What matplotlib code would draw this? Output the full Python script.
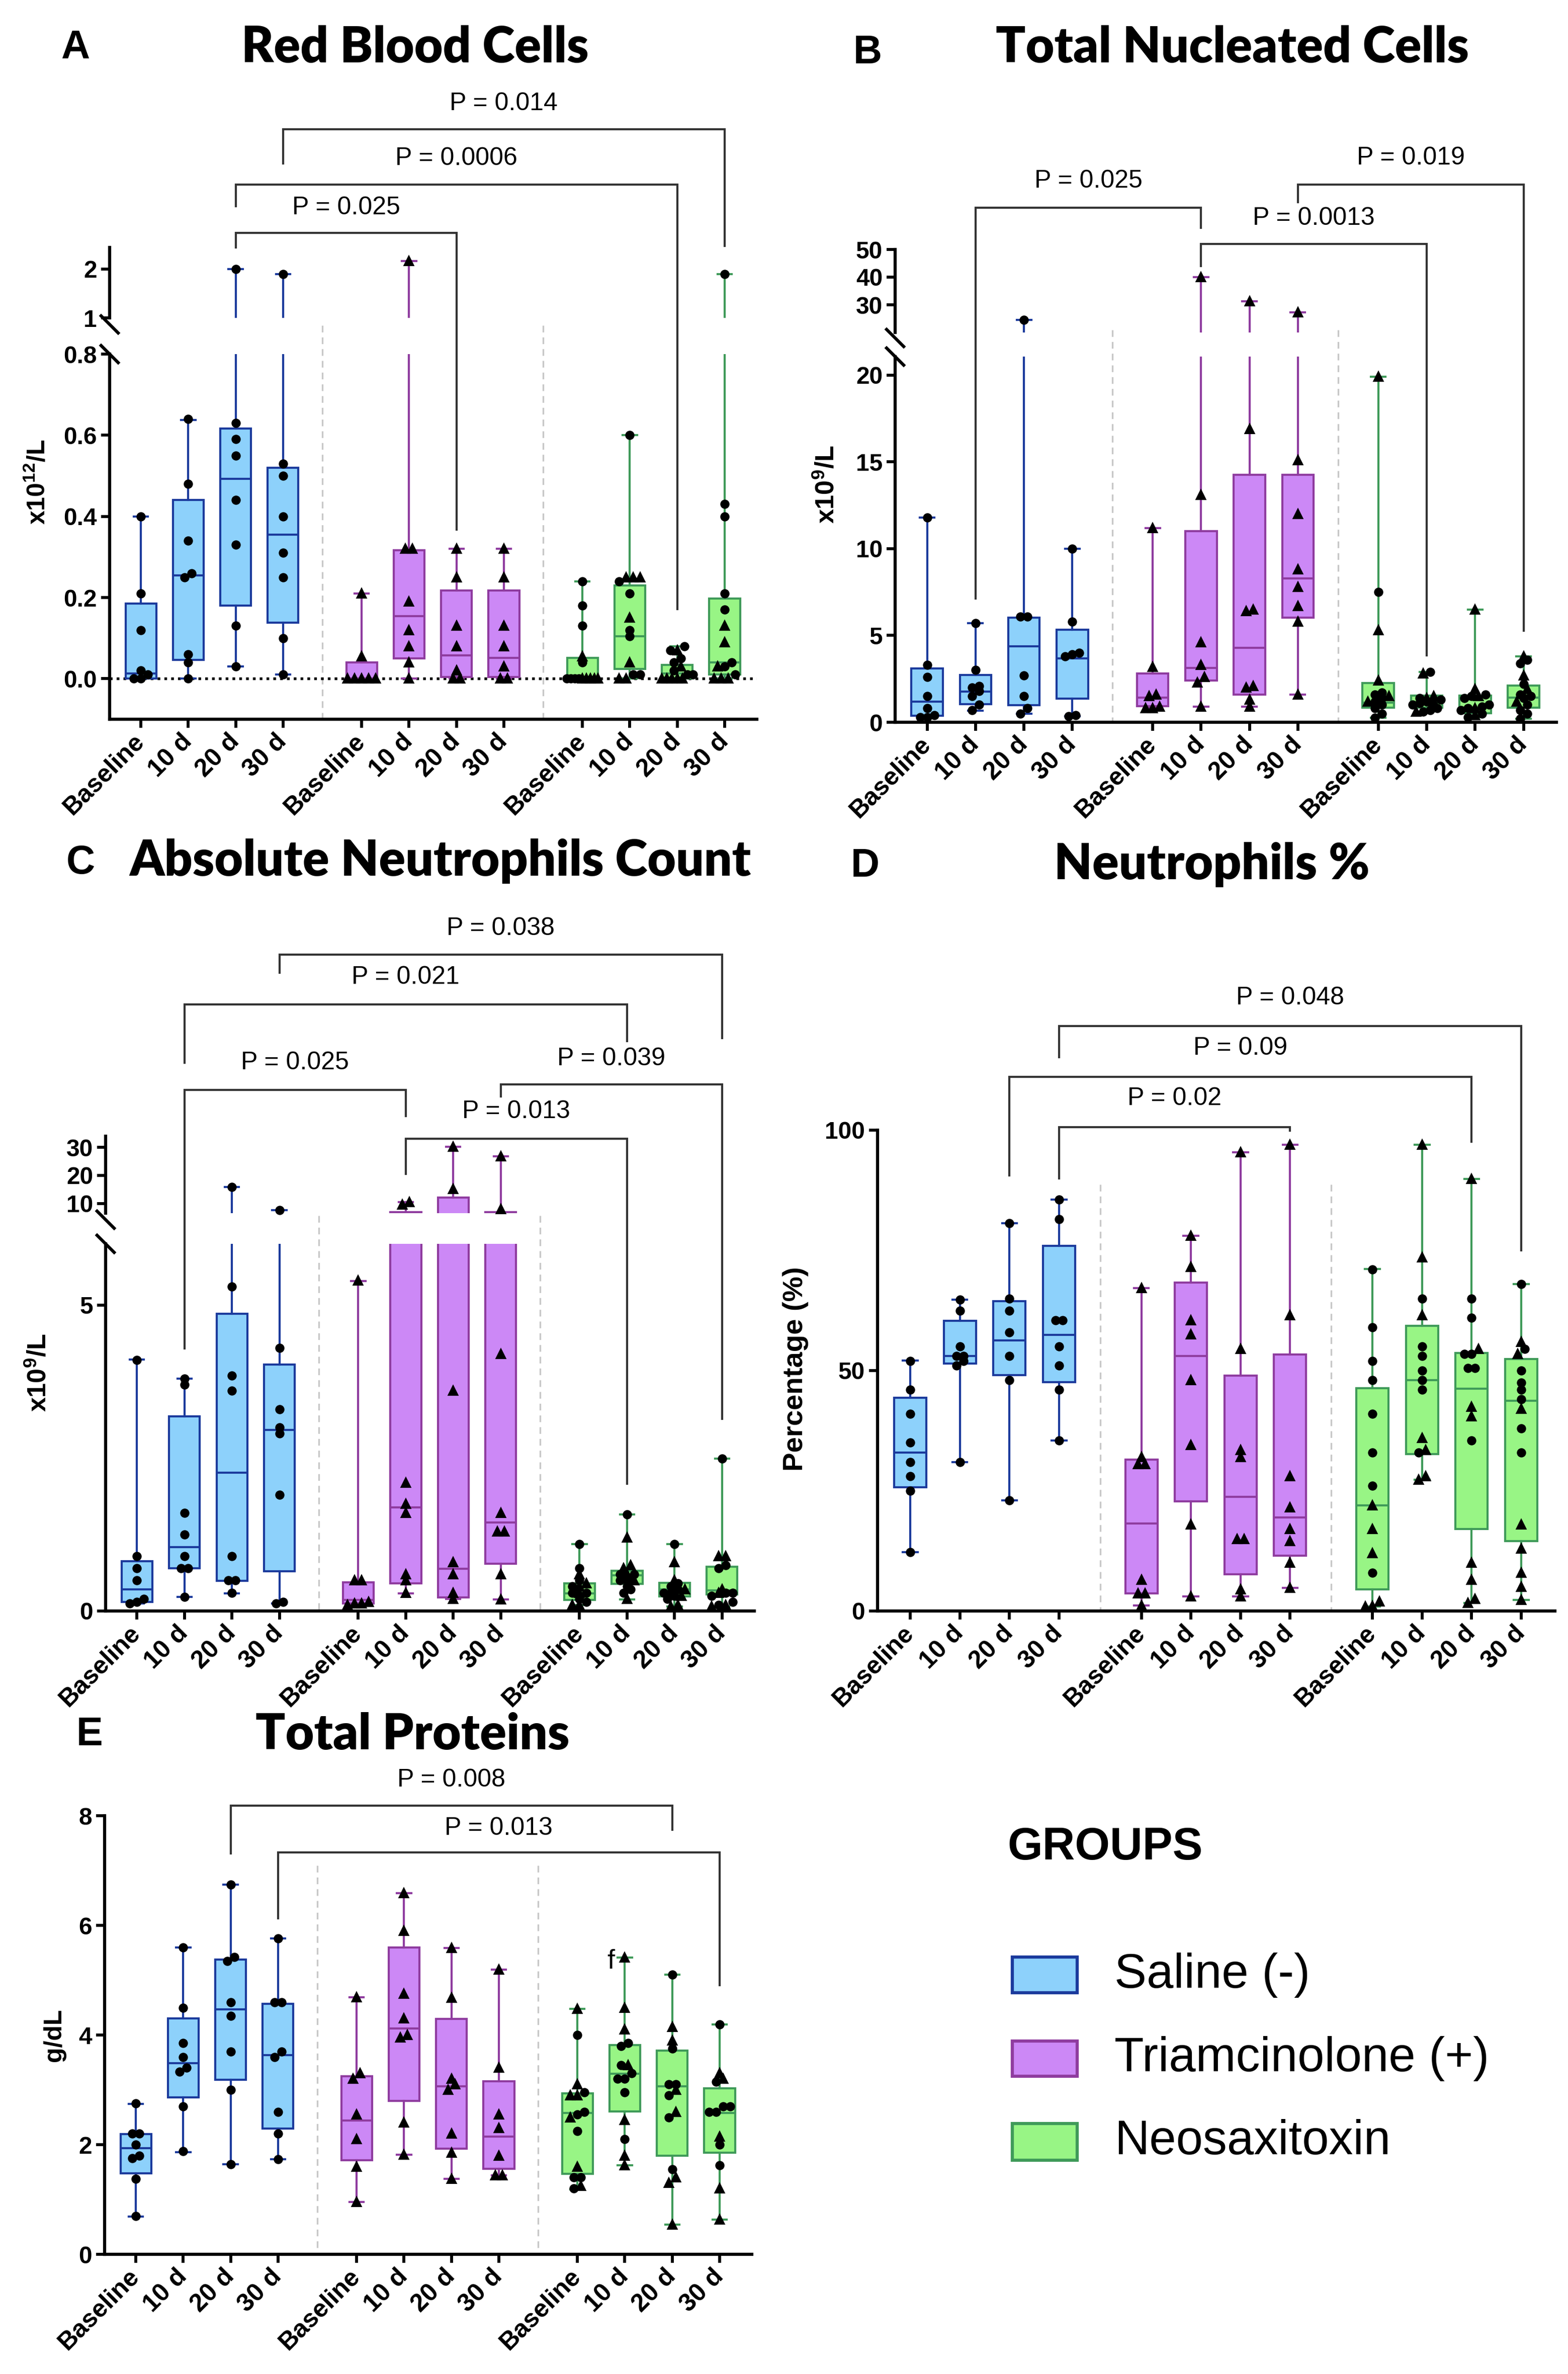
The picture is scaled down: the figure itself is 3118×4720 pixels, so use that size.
import matplotlib
matplotlib.use("Agg")
import matplotlib.pyplot as plt
import matplotlib.transforms as mtransforms
from matplotlib.lines import Line2D
from matplotlib.patches import Rectangle
import numpy as np

plt.rcParams['font.family'] = ['Liberation Sans', 'DejaVu Sans']
plt.rcParams['mathtext.fontset'] = 'custom'
plt.rcParams['mathtext.rm'] = 'Liberation Sans'
plt.rcParams['mathtext.bf'] = 'Liberation Sans:bold'

W, H = 3118, 4720
DPI = 300

groups = ["Saline (-)", "Triamcinolone (+)", "Neosaxitoxin"]
times = ["Baseline", "10 d", "20 d", "30 d"]
face_colors = ["#8dd1fb", "#cc88f6", "#98f585"]
edge_colors = ["#1b3a9c", "#8f3c9f", "#3f9a59"]

# ---- A: red blood cells (x10^12/L)  box = [min, q1, median, q3, max]
rbc_box = [[0, 0.0, 0.013, 0.185, 0.40], [0, 0.046, 0.254, 0.44, 0.638],
           [0.03, 0.18, 0.493, 0.617, 2.0], [0.01, 0.138, 0.355, 0.52, 1.9],
           [0, 0, 0.0, 0.04, 0.21], [0, 0.05, 0.154, 0.316, 2.16],
           [0, 0.004, 0.057, 0.217, 0.32], [0, 0.004, 0.051, 0.217, 0.32],
           [0, 0, 0, 0.051, 0.24], [0, 0.024, 0.105, 0.23, 0.60],
           [0, 0, 0.013, 0.034, 0.08], [0, 0.01, 0.04, 0.197, 1.9]]
rbc_saline = [[0.40, 0.21, 0.12, 0.02, 0.01, 0.0, 0.0],
              [0.64, 0.48, 0.34, 0.26, 0.25, 0.06, 0.04, 0.0],
              [2.0, 0.63, 0.59, 0.55, 0.44, 0.33, 0.13, 0.03],
              [1.9, 0.53, 0.50, 0.40, 0.31, 0.25, 0.10, 0.01]]
rbc_triam = [[0.21, 0.055, 0, 0, 0, 0, 0],
             [2.16, 0.32, 0.32, 0.19, 0.12, 0.08, 0.04, 0.0],
             [0.32, 0.25, 0.13, 0.08, 0.02, 0.0, 0.0],
             [0.32, 0.25, 0.13, 0.08, 0.03, 0.0, 0.0]]
rbc_neo_c = [[0.24, 0.18, 0.13, 0.04, 0, 0, 0, 0],
             [0.60, 0.24, 0.21, 0.12, 0.105, 0.01, 0.01],
             [0.08, 0.07, 0.05, 0.04, 0.02, 0.01, 0.01],
             [1.9, 0.43, 0.40, 0.21, 0.17, 0.04, 0.03, 0.01]]
rbc_neo_t = [[0.055, 0, 0, 0, 0, 0],
             [0.25, 0.25, 0.25, 0.15, 0.04, 0.0, 0.0],
             [0.07, 0.03, 0, 0, 0, 0, 0],
             [0.13, 0.09, 0.03, 0, 0, 0]]

# ---- B: total nucleated cells (x10^9/L)
tnc_box = [[0.3, 0.37, 1.2, 3.1, 11.8], [0.67, 1.04, 1.78, 2.73, 5.7],
           [0.5, 0.98, 4.39, 6.04, 24.6], [0.35, 1.35, 3.68, 5.34, 10.0],
           [0.8, 0.92, 1.41, 2.82, 11.2], [0.89, 2.42, 3.13, 11.0, 40],
           [0.9, 1.6, 4.29, 14.26, 31.3], [1.6, 6.04, 8.28, 14.26, 27.3],
           [0.25, 0.83, 1.13, 2.27, 19.9], [0.6, 0.83, 1.13, 1.53, 2.9],
           [0.3, 0.52, 0.83, 1.53, 6.5], [0.2, 0.83, 1.41, 2.12, 3.8]]
tnc_saline = [[11.8, 3.3, 2.6, 1.5, 0.8, 0.4, 0.3, 0.3],
              [5.7, 3.0, 2.1, 2.0, 1.8, 1.5, 1.0, 0.7],
              [24.6, 6.1, 6.1, 2.7, 1.5, 0.8, 0.5],
              [10.0, 5.8, 4.0, 3.9, 3.8, 0.4, 0.35]]
tnc_triam = [[11.2, 3.2, 1.6, 1.5, 0.9, 0.8, 0.8],
             [40, 13.1, 4.6, 3.3, 2.6, 2.3, 0.9],
             [31.3, 16.9, 6.5, 6.4, 2.1, 2.0, 1.3, 0.9],
             [27.3, 15.1, 12.0, 8.8, 7.8, 6.7, 5.8, 1.6]]
tnc_neo_c = [[7.5, 1.7, 1.6, 1.4, 1.2, 1.0, 0.8, 0.5, 0.25],
             [2.9, 1.4, 1.3, 1.2, 1.1, 1.0, 0.8, 0.7, 0.6],
             [1.6, 1.5, 1.4, 1.0, 0.9, 0.8, 0.7, 0.5, 0.3],
             [3.6, 3.4, 2.2, 1.6, 1.5, 1.4, 1.0, 0.7, 0.5, 0.2]]
tnc_neo_t = [[19.9, 5.3, 2.4, 1.5, 1.2],
             [2.8, 1.5, 1.4, 1.2, 0.6],
             [6.5, 1.9, 1.5, 0.8, 0.4],
             [3.8, 2.7, 1.9, 1.2]]

# ---- C: absolute neutrophils count (x10^9/L)
anc_box = [[0.12, 0.15, 0.35, 0.81, 4.11], [0.23, 0.7, 1.04, 3.18, 3.8],
           [0.29, 0.49, 2.26, 4.86, 15.8], [0.12, 0.65, 2.96, 4.03, 7.5],
           [0.1, 0.12, 0.18, 0.47, 5.39], [0.29, 0.45, 1.69, 6.9, 10.4],
           [0.2, 0.22, 0.69, 12.1, 30.2], [0.19, 0.77, 1.45, 6.9, 26.9],
           [0.1, 0.18, 0.29, 0.45, 1.09], [0.19, 0.44, 0.58, 0.66, 1.58],
           [0.07, 0.24, 0.35, 0.46, 1.09], [0.07, 0.27, 0.34, 0.72, 2.49]]
anc_saline = [[4.1, 0.9, 0.7, 0.5, 0.2, 0.15, 0.12],
              [3.8, 3.7, 1.6, 1.25, 0.9, 0.7, 0.7, 0.23],
              [15.8, 5.3, 3.85, 3.6, 0.9, 0.5, 0.5, 0.3],
              [7.5, 4.3, 3.3, 3.0, 2.9, 1.9, 0.15, 0.12]]
anc_triam = [[5.4, 0.5, 0.5, 0.15, 0.12, 0.12, 0.1],
             [10.4, 9.6, 2.1, 1.75, 1.6, 0.6, 0.5, 0.3],
             [30.2, 15.2, 3.6, 0.8, 0.6, 0.3, 0.2],
             [26.9, 8.0, 4.2, 1.6, 1.3, 1.3, 0.6, 0.19]]
anc_neo_c = [[1.09, 0.7, 0.5, 0.4, 0.3, 0.3, 0.2, 0.15],
             [1.58, 0.6, 0.6, 0.5, 0.5, 0.4, 0.35, 0.3],
             [1.09, 0.45, 0.4, 0.35, 0.3, 0.3, 0.25, 0.2],
             [2.49, 0.75, 0.7, 0.3, 0.3, 0.25, 0.15, 0.1]]
anc_neo_t = [[0.6, 0.45, 0.4, 0.3, 0.1, 0.1],
             [1.2, 0.75, 0.7, 0.6, 0.5, 0.2],
             [0.8, 0.5, 0.35, 0.25, 0.1, 0.07],
             [0.9, 0.9, 0.35, 0.3, 0.1, 0.07]]

# ---- D: neutrophils %
neu_box = [[12.2, 25.7, 32.9, 44.4, 52.1], [31, 51.5, 53, 60.4, 64.8],
           [23, 49.1, 56.3, 64.4, 80.6], [35.5, 47.6, 57.4, 75.9, 85.6],
           [1.2, 3.7, 18.2, 31.5, 67.2], [3, 22.8, 53, 68.3, 78],
           [3, 7.6, 23.7, 49, 95.4], [4.8, 11.5, 19.5, 53.3, 97],
           [0.9, 4.5, 22, 46.3, 71.1], [27.3, 32.6, 48, 59.3, 97],
           [1.7, 17, 46.2, 53.7, 89.9], [2.3, 14.5, 43.7, 52.4, 68]]
neu_saline = [[52, 46, 41, 35, 31, 28, 25, 12.2],
              [64.8, 62.5, 55, 53, 53, 52, 51, 31],
              [80.6, 65, 62.5, 58, 53, 48, 23],
              [85.6, 81.5, 60.5, 60.5, 55, 51, 46, 35.5]]
neu_triam = [[67.2, 32, 30.5, 30.5, 6.5, 3.7, 3.7, 1.2],
             [78, 71.5, 60.5, 57.5, 48, 34.5, 18, 3],
             [95.4, 54.5, 33.5, 32, 15, 15, 4.5, 3],
             [97, 61.5, 28, 21.5, 17, 14.5, 10, 4.8]]
neu_neo_c = [[71, 59, 52, 48, 41, 33, 26, 8],
             [65, 55, 53, 50, 48, 46, 33],
             [65, 61, 53.5, 53.5, 50.5, 50.5, 35.5],
             [68, 54.5, 50, 47.5, 46, 44, 38, 33]]
neu_neo_t = [[22, 17, 12, 2, 1, 0.9],
             [97, 73.5, 61.5, 36, 33.5, 28, 27.3],
             [89.9, 54.5, 42.5, 40.5, 10, 6.5, 2.5, 1.7],
             [56, 53.5, 42, 18, 13, 8, 5, 2.3]]

# ---- E: total proteins (g/dL)
tp_box = [[0.69, 1.48, 1.94, 2.19, 2.74], [1.86, 2.86, 3.49, 4.3, 5.6],
          [1.64, 3.18, 4.47, 5.38, 6.74], [1.73, 2.29, 3.63, 4.57, 5.76],
          [0.95, 1.72, 2.44, 3.25, 4.69], [1.82, 2.8, 4.12, 5.6, 6.59],
          [1.38, 1.93, 3.06, 4.29, 5.59], [1.44, 1.56, 2.15, 3.16, 5.19],
          [1.18, 1.47, 2.58, 2.94, 4.48], [1.62, 2.61, 3.29, 3.82, 5.41],
          [0.54, 1.8, 3.06, 3.72, 5.1], [0.63, 1.85, 2.58, 3.03, 4.19]]
tp_saline = [[2.75, 2.2, 2.2, 2.0, 1.8, 1.75, 1.38, 0.7],
             [5.6, 4.5, 3.85, 3.6, 3.4, 3.33, 2.7, 1.88],
             [6.74, 5.42, 5.35, 4.6, 4.35, 3.7, 3.0, 1.64],
             [5.76, 4.6, 4.6, 3.7, 3.6, 2.6, 2.2, 1.73]]
tp_triam = [[4.69, 3.3, 3.2, 2.55, 2.1, 1.6, 0.95],
            [6.59, 5.9, 4.75, 4.3, 4.0, 3.95, 2.4, 1.82],
            [5.59, 4.68, 3.2, 3.1, 3.0, 2.2, 1.85, 1.38],
            [5.19, 3.4, 2.55, 2.3, 1.8, 1.44, 1.44]]
tp_neo_c = [[4.0, 2.95, 2.6, 2.55, 2.25, 1.4, 1.4, 1.2],
            [3.85, 3.8, 3.45, 3.3, 3.2, 3.2, 2.95, 2.1],
            [5.1, 3.75, 3.1, 3.1, 2.9, 2.5, 1.55],
            [4.19, 3.15, 2.7, 2.7, 2.6, 2.6, 2.0, 1.62]]
tp_neo_t = [[4.48, 3.1, 2.9, 2.9, 2.5, 1.6, 1.25],
            [5.41, 4.5, 4.1, 3.45, 2.45, 1.8, 1.62],
            [4.15, 3.9, 3.0, 2.6, 1.4, 1.3, 0.54],
            [3.3, 3.2, 2.15, 1.2, 0.63]]

GAP = 0.66
positions = [g * (4 + GAP) + t for g in range(3) for t in range(4)]
XLIM = (-0.66, 13.0)
separators = [3 + (1 + GAP) / 2, 4 + GAP + 3 + (1 + GAP) / 2]

fig = plt.figure(figsize=(W / DPI, H / DPI), dpi=DPI)


def fx(p):
    return p / W


def fy(p):
    return 1 - p / H


def px_axes(x0, y0, x1, y1, ylim, yticks, ylabels, bottom=True):
    ax = fig.add_axes([fx(x0), fy(y1), (x1 - x0) / W, (y1 - y0) / H])
    ax.set_xlim(XLIM)
    ax.set_ylim(ylim)
    ax.patch.set_alpha(0)
    for s in ['top', 'right']:
        ax.spines[s].set_visible(False)
    ax.spines['left'].set_linewidth(1.5)
    ax.set_yticks(yticks)
    ax.set_yticklabels(ylabels, fontweight='bold', fontsize=11.5)
    ax.tick_params(axis='y', direction='out', length=4, width=1.4, pad=2)
    if bottom:
        ax.spines['bottom'].set_linewidth(1.5)
        ax.set_xticks(positions)
        ax.set_xticklabels(times * 3, rotation=45, ha='right', va='center',
                           rotation_mode='anchor', fontweight='bold', fontsize=12)
        ax.tick_params(axis='x', direction='out', length=4, width=1.4, pad=5)
    else:
        ax.spines['bottom'].set_visible(False)
        ax.set_xticks([])
    return ax


def pick_axis(axes, v):
    if len(axes) == 1 or v <= axes[0].get_ylim()[1]:
        return axes[0]
    return axes[1]


def place_points(axes, pos, vals, marks):
    ypix = np.array([pick_axis(axes, v).transData.transform((pos, v))[1] for v in vals])
    low = axes[0]
    xpu = low.transData.transform((1, 0))[0] - low.transData.transform((0, 0))[0]
    offs = np.zeros(len(vals))
    order = np.argsort(ypix)
    i = 0
    while i < len(order):
        j = i
        while j + 1 < len(order) and ypix[order[j + 1]] - ypix[order[i]] < 12:
            j += 1
        n = j - i + 1
        if n > 1:
            step = min(14.0, 62.0 / (n - 1))
            for k in range(n):
                offs[order[i + k]] = (k - (n - 1) / 2) * step
        i = j + 1
    for v, m, o in zip(vals, marks, offs):
        ax = pick_axis(axes, v)
        ax.plot(pos + o / xpu, v, marker=m, ms=3.4 if m == 'o' else 3.9,
                color='black', ls='none', clip_on=False, zorder=5)


def draw_panel(axes, boxes, pts_s, pts_t, pts_nc, pts_nt):
    for i, b in enumerate(boxes):
        g = i // 4
        st = dict(whislo=b[0], q1=b[1], med=b[2], q3=b[3], whishi=b[4])
        ec = edge_colors[g]
        for k, ax in enumerate(axes):
            if k > 0 and b[4] <= ax.get_ylim()[0]:
                continue
            ax.bxp([st], positions=[positions[i]], widths=0.65, capwidths=0.3,
                   patch_artist=True, showfliers=False, manage_ticks=False,
                   boxprops=dict(facecolor=face_colors[g], edgecolor=ec, linewidth=1.0),
                   whiskerprops=dict(color=ec, linewidth=1.0),
                   capprops=dict(color=ec, linewidth=1.0),
                   medianprops=dict(color=ec, linewidth=1.0))
    for i in range(12):
        g, t = divmod(i, 4)
        if g == 0:
            vals, marks = pts_s[t], ['o'] * len(pts_s[t])
        elif g == 1:
            vals, marks = pts_t[t], ['^'] * len(pts_t[t])
        else:
            vals = pts_nc[t] + pts_nt[t]
            marks = ['o'] * len(pts_nc[t]) + ['^'] * len(pts_nt[t])
        place_points(axes, positions[i], vals, marks)


def separators_from(ax, top_px):
    tr = mtransforms.blended_transform_factory(ax.transData, fig.transFigure)
    y0 = ax.get_position().y0
    for sx in separators:
        ax.plot([sx, sx], [fy(top_px), y0], transform=tr, clip_on=False,
                ls=(0, (4, 3)), color='#c8c8c8', lw=0.8, zorder=0)


def bracket(ax, a, b, h, l, r, ty, label):
    x1, x2 = positions[a[0] * 4 + a[1]], positions[b[0] * 4 + b[1]]
    tr = mtransforms.blended_transform_factory(ax.transData, fig.transFigure)
    ax.plot([x1, x1, x2, x2], [fy(l), fy(h), fy(h), fy(r)], transform=tr,
            clip_on=False, color='#333333', lw=1.0, solid_joinstyle='miter')
    ax.text((x1 + x2) / 2, fy(ty), label, transform=tr, ha='center',
            va='center', fontsize=12)


def slash(xp, yp):
    fig.add_artist(Line2D([fx(xp - 17), fx(xp + 17)], [fy(yp - 17), fy(yp + 17)],
                          transform=fig.transFigure, color='black', lw=1.5))


def heading(letter, lx, ly, title, tx, ty):
    fig.text(fx(lx), fy(ly), letter, fontsize=19, fontweight='bold',
             ha='center', va='center')
    fig.text(fx(tx), fy(ty), title, fontsize=23.5, fontweight='heavy',
             family=['Lato', 'Liberation Sans'], ha='center', va='center')


def ylabel(x, y, text, size=12):
    fig.text(fx(x), fy(y), text, rotation=90, fontsize=size, fontweight='bold',
             ha='center', va='center')


# ---------------- Panel A
aA = px_axes(218, 704, 1505, 1430, (-0.1, 0.8), [0, 0.2, 0.4, 0.6, 0.8],
             ['0.0', '0.2', '0.4', '0.6', '0.8'])
aAu = px_axes(218, 492, 1505, 632, (1, 2.44), [1, 2], ['1', '2'], bottom=False)
aA.axhline(0, ls=(0, (1, 1.5)), color='black', lw=1.3, zorder=1)
draw_panel([aA, aAu], rbc_box, rbc_saline, rbc_triam, rbc_neo_c, rbc_neo_t)
separators_from(aA, 647)
slash(218, 645)
slash(218, 704)
bracket(aA, (0, 2), (1, 2), 463, 492, 1053, 413, 'P = 0.025')
bracket(aA, (0, 2), (2, 2), 367, 410, 1211, 315, 'P = 0.0006')
bracket(aA, (0, 3), (2, 3), 257, 325, 489, 206, 'P = 0.014')
heading('A', 150, 95, 'Red Blood Cells', 825, 95)
ylabel(75, 958, r'$\mathbf{x10^{12}/L}$')

# ---------------- Panel B
aB = px_axes(1780, 709, 3095, 1436, (0, 21.07), [0, 5, 10, 15, 20],
             ['0', '5', '10', '15', '20'])
aBu = px_axes(1780, 496, 3095, 661, (20, 50), [30, 40, 50], ['30', '40', '50'],
              bottom=False)
draw_panel([aB, aBu], tnc_box, tnc_saline, tnc_triam, tnc_neo_c, tnc_neo_t)
separators_from(aB, 656)
slash(1780, 672)
slash(1780, 709)
bracket(aB, (0, 1), (1, 1), 413, 1190, 453, 360, 'P = 0.025')
bracket(aB, (1, 1), (2, 1), 485, 529, 1303, 434, 'P = 0.0013')
bracket(aB, (1, 3), (2, 3), 367, 402, 1254, 314, 'P = 0.019')
heading('B', 1725, 106, 'Total Nucleated Cells', 2450, 95)
ylabel(1645, 963, r'$\mathbf{x10^{9}/L}$', 12.5)

# ---------------- Panel C
aC = px_axes(210, 2473, 1500, 3203, (0, 6), [0, 5], ['0', '5'])
aCu = px_axes(210, 2259, 1500, 2412, (6.5, 34), [10, 20, 30], ['10', '20', '30'],
              bottom=False)
draw_panel([aC, aCu], anc_box, anc_saline, anc_triam, anc_neo_c, anc_neo_t)
separators_from(aC, 2417)
slash(210, 2425)
slash(210, 2473)
bracket(aC, (0, 3), (2, 3), 1898, 1934, 2064, 1846, 'P = 0.038')
bracket(aC, (0, 1), (2, 1), 1997, 2113, 2070, 1943, 'P = 0.021')
bracket(aC, (0, 1), (1, 1), 2167, 2681, 2219, 2113, 'P = 0.025')
bracket(aC, (1, 3), (2, 3), 2156, 2180, 2821, 2105, 'P = 0.039')
bracket(aC, (1, 1), (2, 1), 2264, 2334, 2950, 2210, 'P = 0.013')
heading('C', 160, 1717, 'Absolute Neutrophils Count', 875, 1712)
ylabel(78, 2729, r'$\mathbf{x10^{9}/L}$', 12.5)

# ---------------- Panel D
aD = px_axes(1745, 2247, 3092, 3203, (0, 100), [0, 50, 100], ['0', '50', '100'])
draw_panel([aD], neu_box, neu_saline, neu_triam, neu_neo_c, neu_neo_t)
separators_from(aD, 2355)
bracket(aD, (0, 3), (2, 3), 2040, 2102, 2486, 1984, 'P = 0.048')
bracket(aD, (0, 2), (2, 2), 2141, 2337, 2270, 2084, 'P = 0.09')
bracket(aD, (0, 3), (1, 3), 2241, 2343, 2248, 2184, 'P = 0.02')
heading('D', 1720, 1723, 'Neutrophils %', 2410, 1719)
ylabel(1582, 2722, 'Percentage (%)', 13.5)

# ---------------- Panel E
aE = px_axes(208, 3610, 1495, 4482, (0, 8), [0, 2, 4, 6, 8],
             ['0', '2', '4', '6', '8'])
draw_panel([aE], tp_box, tp_saline, tp_triam, tp_neo_c, tp_neo_t)
separators_from(aE, 3709)
bracket(aE, (0, 2), (2, 2), 3590, 3685, 3638, 3539, 'P = 0.008')
bracket(aE, (0, 3), (2, 3), 3683, 3814, 3947, 3635, 'P = 0.013')
fig.text(fx(1215), fy(3900), 'f', fontsize=13, ha='center', va='center')
heading('E', 178, 3449, 'Total Proteins', 820, 3449)
ylabel(108, 4046, 'g/dL')

# ---------------- legend
narrow = ['Liberation Sans Narrow', 'Liberation Sans']
fig.text(fx(2003), fy(3673), 'GROUPS', fontsize=21.5, fontweight='bold',
         family=narrow, ha='left', va='center')
legend_rows = [(3891, 3962), (4058, 4128), (4222, 4295)]
for i, name in enumerate(groups):
    y0, y1 = legend_rows[i]
    fig.add_artist(Rectangle((fx(2013), fy(y1)), (2142 - 2013) / W, (y1 - y0) / H,
                             transform=fig.transFigure, facecolor=face_colors[i],
                             edgecolor=edge_colors[i], lw=1.5))
    fig.text(fx(2216), fy((y0 + y1) / 2), name, fontsize=23, family=narrow,
             ha='left', va='center')

fig.savefig('out.png', dpi=DPI)
